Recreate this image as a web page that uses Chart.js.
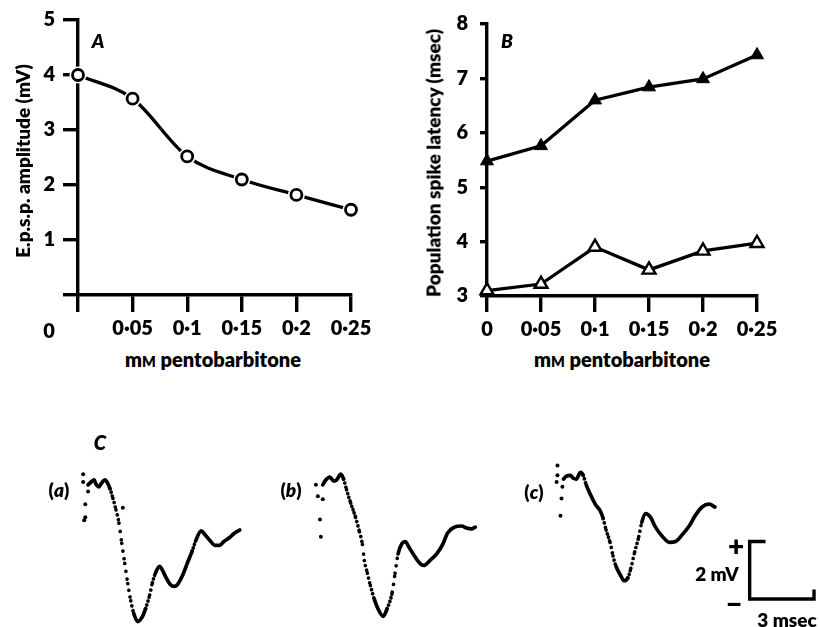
<!DOCTYPE html>
<html><head><meta charset="utf-8">
<script src="https://cdn.jsdelivr.net/npm/chart.js@4/dist/chart.umd.min.js"></script>
<style>
html,body{margin:0;padding:0;background:#fff;}
#wrap{position:relative;width:820px;height:627px;overflow:hidden;font-family:Lato,'Open Sans',sans-serif;font-weight:800;color:#000;}
canvas{position:absolute;}
.t{position:absolute;white-space:nowrap;line-height:1;transform:translate(-50%,-50%);}
.rot{transform:translate(-50%,-50%) rotate(-90deg);}
.it{font-style:italic;}
.sc{font-size:0.72em;}
</style></head><body><div id="wrap">
<canvas id="chartA" width="410" height="345" style="left:0;top:0"></canvas>
<canvas id="chartB" width="410" height="345" style="left:410px;top:0"></canvas>
<canvas id="chartC" width="820" height="197" style="left:0;top:430px"></canvas>

<div class="t rot" style="left:22px;top:161px;font-size:19px">E.p.s.p. amplitude (mV)</div>
<div class="t rot" style="left:433px;top:163px;font-size:19px">Population spike latency (msec)</div>
<div class="t" style="left:213px;top:359px;font-size:20px">m<span class="sc">M</span> pentobarbitone</div>
<div class="t" style="left:622px;top:359px;font-size:20px">m<span class="sc">M</span> pentobarbitone</div>
<div class="t" style="left:49px;top:330px;font-size:20px">0</div>
<div class="t it" style="left:98px;top:40px;font-size:19px">A</div>
<div class="t it" style="left:507px;top:40px;font-size:19px">B</div>
<div class="t it" style="left:100px;top:442px;font-size:20px">C</div>
<div class="t" style="left:59px;top:489px;font-size:19px">(<span class="it">a</span>)</div>
<div class="t" style="left:291px;top:489px;font-size:19px">(<span class="it">b</span>)</div>
<div class="t" style="left:534px;top:491px;font-size:19px">(<span class="it">c</span>)</div>
<div class="t" style="left:736px;top:545px;font-size:28px">+</div>
<div class="t" style="left:717px;top:573px;font-size:19px">2 mV</div>
<div class="t" style="left:734px;top:603px;font-size:28px">−</div>
<div class="t" style="left:787px;top:619px;font-size:19px">3 msec</div>
</div>
<script>
// ---------- data ----------
const concentrations = [0, 0.05, 0.1, 0.15, 0.2, 0.25];
const xTickLabels = ['0', '0·05', '0·1', '0·15', '0·2', '0·25'];
const epspAmplitude = [4.0, 3.57, 2.52, 2.1, 1.82, 1.55];
const latencyFilled = [5.48, 5.76, 6.6, 6.84, 6.99, 7.43];
const latencyOpen = [3.1, 3.22, 3.9, 3.48, 3.83, 3.97];
const yTicksA = [0, 1, 2, 3, 4, 5];
const yTicksB = [3, 4, 5, 6, 7, 8];

// traces (time in msec from stimulus, voltage in mV from baseline)
const traceA_t = [0.18,0.32,0.46,0.55,0.69,0.78,0.97,1.06,1.20,1.34,1.48,1.62,1.75,1.89,2.03,2.17,2.31,2.49,2.72,2.86,3.05,3.18,3.32,3.51,3.65,3.78,4.02,4.20,4.34,4.57,4.80,5.03,5.22,5.45,5.63,5.86,6.09,6.32,6.51,6.78,6.97,7.25];
const traceA_v = [0.00,0.10,0.17,0.03,-0.07,0.03,0.17,0.10,-0.13,-0.47,-0.87,-1.33,-2.03,-2.73,-3.43,-4.03,-4.47,-4.75,-4.57,-4.30,-3.83,-3.40,-3.07,-2.83,-2.97,-3.17,-3.47,-3.53,-3.47,-3.17,-2.73,-2.30,-1.90,-1.60,-1.73,-1.93,-2.10,-2.10,-1.97,-1.83,-1.70,-1.57];
const traceB_t = [0.18,0.32,0.51,0.69,0.83,1.02,1.15,1.29,1.48,1.71,1.89,2.03,2.12,2.26,2.40,2.58,2.77,3.00,3.18,3.42,3.55,3.69,3.88,4.02,4.20,4.48,4.71,4.89,5.17,5.49,5.77,6.00,6.32,6.65,6.88,7.11,7.29];
const traceB_v = [0.00,0.17,0.27,0.13,0.17,0.37,0.20,-0.17,-0.63,-1.13,-1.63,-2.07,-2.63,-3.07,-3.50,-3.97,-4.33,-4.57,-4.30,-3.73,-3.07,-2.40,-2.03,-1.97,-2.17,-2.50,-2.73,-2.80,-2.63,-2.40,-2.07,-1.67,-1.47,-1.43,-1.50,-1.53,-1.47];
const traceC_t = [0.23,0.37,0.55,0.69,0.83,1.02,1.15,1.29,1.48,1.71,1.94,2.08,2.22,2.40,2.54,2.68,2.91,3.05,3.23,3.37,3.55,3.74,3.88,4.06,4.29,4.52,4.85,5.17,5.45,5.77,6.09,6.37,6.69,7.02,7.29];
const traceC_v = [0.20,0.30,0.33,0.23,0.20,0.43,0.33,0.00,-0.33,-0.67,-0.90,-1.17,-1.57,-2.00,-2.47,-2.83,-3.17,-3.33,-3.23,-2.90,-2.33,-1.80,-1.30,-1.00,-1.13,-1.47,-1.80,-2.00,-1.97,-1.73,-1.43,-1.07,-0.77,-0.67,-0.77];
// stimulus artefact dots
const artA_t = [-0.05,-0.05,0.18,0.05,0.05,0.00,1.80];
const artA_v = [0.37,0.10,-0.23,-0.67,-1.13,-1.23,-0.80];
const artB_t = [-0.14,-0.05,0.18,0.05,0.09];
const artB_v = [0.00,-0.40,-0.50,-1.20,-1.80];
const artC_t = [-0.05,-0.05,-0.09,0.18,0.14,0.09];
const artC_v = [0.67,0.33,0.10,-0.07,-0.47,-1.07];
// calibration bar
const scaleBarMs = 3, scaleBarMv = 2;

// ---------- helpers ----------
const pts = (xs, ys) => xs.map((x, i) => ({x, y: ys[i]}));
const BLACK = '#000';
const tickFont = {family: 'Lato', size: 20, weight: '800'};
Chart.defaults.font.family = 'Lato';
Chart.defaults.animation = false;
Chart.defaults.plugins.legend.display = false;
Chart.defaults.plugins.tooltip.enabled = false;
Chart.defaults.events = [];

function axisX(yLen) {
  return {
    type: 'linear', min: 0, max: 0.25,
    afterBuildTicks: s => { s.ticks = concentrations.map(v => ({value: v})); },
    grid: {drawOnChartArea: false, tickLength: yLen, lineWidth: 3.4, color: BLACK},
    border: {width: 3.4, color: BLACK}
  };
}

function build() {
  // ---------- Panel A ----------
  const xa = axisX(17);
  xa.afterFit = s => { s.height = 50; };
  xa.ticks = {callback: (v, i) => i === 0 ? '' : xTickLabels[i], font: tickFont, color: BLACK, padding: 5, maxRotation: 0, autoSkip: false};
  new Chart(document.getElementById('chartA'), {
    type: 'line',
    data: {datasets: [
      {data: pts(concentrations, epspAmplitude), showLine: false, pointRadius: 5.5, pointBorderWidth: 2.8, pointBackgroundColor: '#fff', pointBorderColor: BLACK, clip: false},
      {data: pts(concentrations, epspAmplitude), showLine: false, pointRadius: 8.5, pointBorderWidth: 0, pointBackgroundColor: '#fff', pointBorderColor: '#fff', clip: false},
      {data: pts(concentrations, epspAmplitude), borderColor: BLACK, borderWidth: 3.3, pointRadius: 0, cubicInterpolationMode: 'monotone', clip: false}
    ]},
    options: {
      responsive: false,
      layout: {padding: {left: 0, top: 19, right: 59, bottom: 0}},
      scales: {
        x: xa,
        y: {min: 0, max: 5,
          afterBuildTicks: s => { s.ticks = yTicksA.map(v => ({value: v})); },
          afterFit: s => { s.width = 78; },
          ticks: {callback: v => v === 0 ? '' : String(v), font: tickFont, color: BLACK, padding: 8},
          grid: {drawOnChartArea: false, tickLength: 15, lineWidth: 3.4, color: BLACK},
          border: {width: 3.4, color: BLACK}}
      }
    }
  });

  // ---------- Panel B ----------
  const xb = axisX(16);
  xb.afterFit = s => { s.height = 49; };
  xb.ticks = {callback: (v, i) => xTickLabels[i], font: tickFont, color: BLACK, padding: 6, maxRotation: 0, autoSkip: false};
  new Chart(document.getElementById('chartB'), {
    type: 'line',
    data: {datasets: [
      {data: pts(concentrations, latencyFilled), borderColor: BLACK, borderWidth: 3.3, tension: 0, pointStyle: 'triangle', pointRadius: 7.5, pointBorderWidth: 1, pointBackgroundColor: BLACK, pointBorderColor: BLACK, clip: false},
      {data: pts(concentrations, latencyOpen), borderColor: BLACK, borderWidth: 3.3, tension: 0, pointStyle: 'triangle', pointRadius: 7.5, pointBorderWidth: 2.4, pointBackgroundColor: '#fff', pointBorderColor: BLACK, clip: false}
    ]},
    options: {
      responsive: false,
      layout: {padding: {left: 0, top: 19, right: 63, bottom: 0}},
      scales: {
        x: xb,
        y: {min: 3, max: 8,
          afterBuildTicks: s => { s.ticks = yTicksB.map(v => ({value: v})); },
          afterFit: s => { s.width = 77; },
          ticks: {callback: v => String(v), font: tickFont, color: BLACK, padding: 12},
          grid: {drawOnChartArea: false, tickLength: 7, lineWidth: 3.4, color: BLACK},
          border: {width: 3.4, color: BLACK}}
      }
    }
  });

  // ---------- Panel C ----------
  const PX_PER_MS = 65 / 3, PX_PER_MV = 30;
  const C_W = 820, C_H = 197, C_TOP = 430, BASE_PY = 483;
  const originPx = {xa: 81, xb: 318, xc: 560};
  const xr = k => ({type: 'linear', display: false, min: -originPx[k] / PX_PER_MS, max: (C_W - originPx[k]) / PX_PER_MS});
  const DOT_PITCH = 1.15;
  const dotted = ctx => {
    const dx = ctx.p1.x - ctx.p0.x, dy = ctx.p1.y - ctx.p0.y;
    const gap = DOT_PITCH * Math.sqrt(1 + (dy * dy) / Math.max(dx * dx, 0.01));
    return gap > 3.4 ? [0.001, gap] : undefined;
  };
  const trace = (t, v, ax) => ({data: pts(t, v), xAxisID: ax, yAxisID: 'y', borderColor: BLACK, borderWidth: 3.7,
    borderCapStyle: 'round', borderJoinStyle: 'round', pointRadius: 0, cubicInterpolationMode: 'monotone', clip: false,
    segment: {borderDash: dotted}});
  const art = (t, v, ax) => ({data: pts(t, v), xAxisID: ax, yAxisID: 'y', showLine: false, pointRadius: 2, pointBorderWidth: 0, pointBackgroundColor: BLACK, clip: false});
  // calibration bar path, built from the calibration values
  const barT0 = (753 - originPx.xc) / PX_PER_MS, barV0 = (BASE_PY - 542) / PX_PER_MV;
  const barPath = [
    {x: barT0 + 0.74, y: barV0}, {x: barT0, y: barV0}, {x: barT0, y: barV0 - scaleBarMv},
    {x: barT0 + scaleBarMs, y: barV0 - scaleBarMv}, {x: barT0 + scaleBarMs, y: barV0 - scaleBarMv + 0.33}
  ];
  new Chart(document.getElementById('chartC'), {
    type: 'line',
    data: {datasets: [
      trace(traceA_t, traceA_v, 'xa'), art(artA_t, artA_v, 'xa'),
      trace(traceB_t, traceB_v, 'xb'), art(artB_t, artB_v, 'xb'),
      trace(traceC_t, traceC_v, 'xc'), art(artC_t, artC_v, 'xc'),
      {data: barPath, xAxisID: 'xc', yAxisID: 'y', borderColor: BLACK, borderWidth: 3.4, tension: 0, pointRadius: 0, borderJoinStyle: 'miter', borderCapStyle: 'butt', clip: false}
    ]},
    options: {
      responsive: false,
      layout: {padding: 0},
      scales: {
        xa: xr('xa'), xb: xr('xb'), xc: xr('xc'),
        y: {type: 'linear', display: false, min: -(C_TOP + C_H - BASE_PY) / PX_PER_MV, max: (BASE_PY - C_TOP) / PX_PER_MV}
      }
    }
  });
}

if (document.fonts && document.fonts.load) {
  Promise.all([document.fonts.load('800 20px Lato'), document.fonts.load('italic 800 20px Lato')]).then(build, build);
} else build();
</script>
</body></html>
